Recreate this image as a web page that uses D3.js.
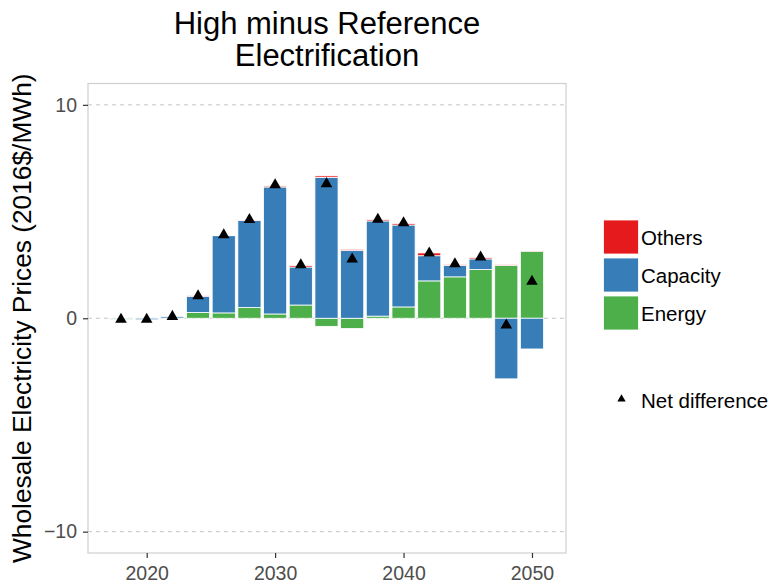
<!DOCTYPE html>
<html>
<head>
<meta charset="utf-8">
<script src="https://cdn.jsdelivr.net/npm/d3@7"></script>
<style>
  html, body { margin: 0; padding: 0; background: #fff; }
  svg { display: block; font-family: "Liberation Sans", Arial, sans-serif; }
</style>
</head>
<body>
<svg id="chart" width="782" height="586"></svg>
<script>
// Price difference components by year ($/MWh, 2016 dollars)
const years    = [2018, 2020, 2022, 2024, 2026, 2028, 2030, 2032, 2034, 2036, 2038, 2040, 2042, 2044, 2046, 2048, 2050];
const energy   = [-0.06, 0.01, 0.01, 0.27, 0.25, 0.50, 0.20, 0.62, -0.38, -0.48, 0.10, 0.53, 1.75, 1.94, 2.28, 2.47, 3.14];
const capacity = [0.01, -0.07, 0.07, 0.76, 3.62, 4.08, 5.95, 1.78, 6.60, 3.17, 4.46, 3.84, 1.18, 0.53, 0.50, -2.84, -1.44];
const others   = [0.00, 0.00, 0.00, 0.02, 0.02, 0.02, 0.05, 0.07, 0.07, 0.06, 0.06, 0.07, 0.13, 0.05, 0.06, 0.04, 0.03];
const netDiff  = [-0.05, -0.06, 0.08, 1.05, 3.90, 4.62, 6.25, 2.50, 6.30, 2.77, 4.63, 4.47, 3.05, 2.55, 2.86, -0.32, 1.73];

const xTicks = [2020, 2030, 2040, 2050];
const yTicks = [-10, 0, 10];

const seriesKeys   = ["Energy", "Capacity", "Others"];
const seriesColors = { Others: "#E41A1C", Capacity: "#377EB8", Energy: "#4DAF4A" };
const legendOrder  = ["Others", "Capacity", "Energy"];

const rows = years.map((y, i) => ({
  year: y, Energy: energy[i], Capacity: capacity[i], Others: others[i], net: netDiff[i]
}));

const svg = d3.select("#chart");
const panel = { left: 88, right: 566, top: 83.5, bottom: 553 };

const barHalf = 0.9;
const x = d3.scaleLinear().domain([2015.43, 2052.65]).range([panel.left, panel.right]);
const y = d3.scaleLinear().domain([-11, 11]).range([panel.bottom, panel.top]);

// Gridlines
svg.append("g").selectAll("line").data(yTicks).join("line")
  .attr("x1", panel.left).attr("x2", panel.right)
  .attr("y1", d => y(d)).attr("y2", d => y(d))
  .attr("stroke", "#C4C4C4").attr("stroke-width", 1)
  .attr("stroke-dasharray", "4,4");

// Stacked bars (positives up, negatives down)
const stacked = d3.stack().keys(seriesKeys).offset(d3.stackOffsetDiverging)(rows);

svg.append("g").selectAll("g").data(stacked).join("g")
  .attr("fill", s => seriesColors[s.key])
  .selectAll("rect").data(s => s).join("rect")
    .attr("x", d => x(d.data.year - barHalf))
    .attr("width", d => x(d.data.year + barHalf) - x(d.data.year - barHalf))
    .attr("y", d => y(Math.max(d[0], d[1])))
    .attr("height", d => Math.abs(y(d[0]) - y(d[1])))
    .attr("stroke", "#fff").attr("stroke-width", 0.8);

// Net difference markers
const tri = d3.symbol().type(d3.symbolTriangle).size(58);
svg.append("g").selectAll("path").data(rows).join("path")
  .attr("d", tri)
  .attr("transform", d => `translate(${x(d.year)},${y(d.net)})`)
  .attr("fill", "#000");

// Panel border
svg.append("rect")
  .attr("x", panel.left).attr("y", panel.top)
  .attr("width", panel.right - panel.left).attr("height", panel.bottom - panel.top)
  .attr("fill", "none").attr("stroke", "#CFCFCF").attr("stroke-width", 1.2);

// Axes
const xAxis = d3.axisBottom(x).tickValues(xTicks).tickFormat(d3.format("d")).tickSize(5).tickPadding(8);
const gx = svg.append("g").attr("transform", `translate(0,${panel.bottom})`).call(xAxis);
gx.select(".domain").remove();
gx.selectAll(".tick line").attr("stroke", "#333").attr("stroke-width", 1.2);
gx.selectAll(".tick text").attr("fill", "#4D4D4D").style("font-size", "19.5px")
  .style("font-family", "Liberation Sans, Arial, sans-serif");

const yAxis = d3.axisLeft(y).tickValues(yTicks).tickSize(5).tickPadding(6);
const gy = svg.append("g").attr("transform", `translate(${panel.left},0)`).call(yAxis);
gy.select(".domain").remove();
gy.selectAll(".tick line").attr("stroke", "#333").attr("stroke-width", 1.2);
gy.selectAll(".tick text").attr("fill", "#4D4D4D").style("font-size", "19.5px")
  .style("font-family", "Liberation Sans, Arial, sans-serif");

// Y axis title
svg.append("text")
  .attr("transform", `translate(31,${(panel.top + panel.bottom) / 2}) rotate(-90)`)
  .attr("text-anchor", "middle")
  .style("font-size", "26.3px").attr("fill", "#000")
  .text("Wholesale Electricity Prices (2016$/MWh)");

// Title
const title = svg.append("text").attr("text-anchor", "middle").style("font-size", "31px").attr("fill", "#000");
title.append("tspan").attr("x", (panel.left + panel.right) / 2).attr("y", 34).text("High minus Reference");
title.append("tspan").attr("x", (panel.left + panel.right) / 2).attr("y", 66).text("Electrification");

// Legend: fill components
const lg = svg.append("g");
legendOrder.forEach((k, i) => {
  const top = 220 + i * 38;
  lg.append("rect").attr("x", 603.5).attr("y", top).attr("width", 35).attr("height", 34)
    .attr("fill", seriesColors[k]).attr("stroke", "#fff").attr("stroke-width", 0.8);
  lg.append("text").attr("x", 641).attr("y", top + 25)
    .style("font-size", "20.5px").attr("fill", "#000").text(k);
});

// Legend: net difference marker
lg.append("path").attr("d", d3.symbol().type(d3.symbolTriangle).size(30))
  .attr("transform", "translate(621.5,399)").attr("fill", "#000");
lg.append("text").attr("x", 641).attr("y", 407.5)
  .style("font-size", "20.5px").attr("fill", "#000").text("Net difference");
</script>
</body>
</html>
